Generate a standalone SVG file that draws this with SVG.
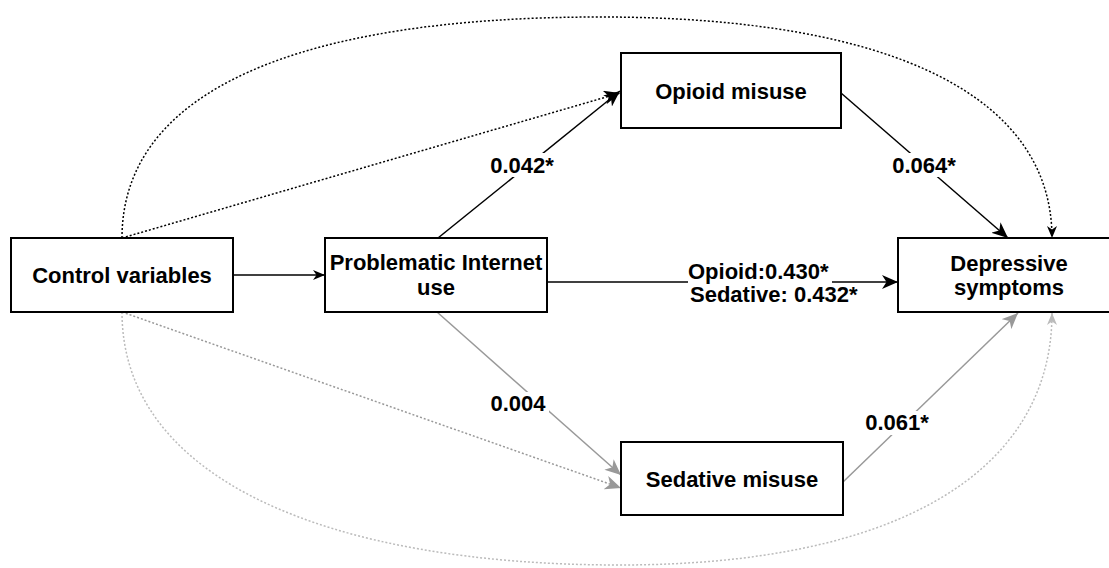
<svg xmlns="http://www.w3.org/2000/svg" width="1109" height="568" viewBox="0 0 1109 568">
<style>
.node rect{fill:#fff;stroke:#000;stroke-width:2}
.t{font-family:"Liberation Sans",Arial,Helvetica,sans-serif;font-weight:bold;font-size:22px;fill:#000}
.c{text-anchor:middle}
.e{fill:none;stroke-width:1.5}
.blk{stroke:#000}
.gry{stroke:#999}
.lgt{stroke:#bbb}
.dot{stroke-dasharray:2 2}
.lbg{fill:#fff;stroke:none}
</style>
<defs>
<marker id="aB" markerUnits="userSpaceOnUse" markerWidth="17" markerHeight="14" refX="16" refY="7" orient="auto"><path d="M0,0 L16,7 L0,14 L4.5,7 Z" fill="#000"/></marker>
<marker id="aBs" markerUnits="userSpaceOnUse" markerWidth="13" markerHeight="10" refX="12" refY="5" orient="auto"><path d="M0,0 L12,5 L0,10 L3.5,5 Z" fill="#000"/></marker>
<marker id="aG" markerUnits="userSpaceOnUse" markerWidth="17" markerHeight="14" refX="16" refY="7" orient="auto"><path d="M0,0 L16,7 L0,14 L4.5,7 Z" fill="#999"/></marker>
<marker id="aGs" markerUnits="userSpaceOnUse" markerWidth="13" markerHeight="10" refX="12" refY="5" orient="auto"><path d="M0,0 L12,5 L0,10 L3.5,5 Z" fill="#bbb"/></marker>
</defs>
<rect width="1109" height="568" fill="#fff"/>
<g id="connectors">
<path class="e blk" d="M233,275 L325,275" marker-end="url(#aBs)"/>
<path class="e blk" d="M438,238 L620,91" marker-end="url(#aB)"/>
<path class="e blk dot" d="M122,238 L620,93" marker-end="url(#aB)"/>
<path class="e blk dot" d="M122,238 C122,90 300,17 600,17 C900,17 1052,100 1052,238" marker-end="url(#aBs)"/>
<path class="e blk" d="M841,93 L1008,238" marker-end="url(#aB)"/>
<path class="e blk" d="M547,282 L688,282"/>
<path class="e blk" d="M832,282 L898,282" marker-end="url(#aB)"/>
<path class="e gry" d="M437,312 L621,475" marker-end="url(#aG)"/>
<path class="e gry dot" d="M122,312 L621,488" marker-end="url(#aG)"/>
<path class="e lgt dot" d="M122,312 C122,480 330,565 620,565 C900,565 1052,470 1052,313" marker-end="url(#aGs)"/>
<path class="e gry" d="M843,482 L1018,313" marker-end="url(#aG)"/>
<g id="labels">
<rect class="lbg" x="489" y="153" width="68" height="24"/>
<text class="t c" x="522" y="173">0.042*</text>
<rect class="lbg" x="892" y="153" width="64" height="24"/>
<text class="t c" x="924" y="173">0.064*</text>
<rect class="lbg" x="487" y="392" width="62" height="24"/>
<text class="t c" x="518" y="411">0.004</text>
<rect class="lbg" x="862" y="411" width="70" height="24"/>
<text class="t c" x="897" y="430">0.061*</text>
<text class="t" x="688" y="279">Opioid:0.430*</text>
<text class="t" x="690" y="302">Sedative: 0.432*</text>
</g>
</g>
<g id="control" class="node"><rect x="11" y="238" width="222" height="74"/><text class="t c" x="122" y="283">Control variables</text></g>
<g id="piu" class="node"><rect x="325" y="238" width="222" height="74"/><text class="t c" x="436" y="270">Problematic Internet</text><text class="t c" x="436" y="295">use</text></g>
<g id="opioid" class="node"><rect x="621" y="53" width="220" height="75"/><text class="t c" x="731" y="99">Opioid misuse</text></g>
<g id="depressive" class="node"><rect x="898" y="238" width="222" height="74"/><text class="t c" x="1009" y="271">Depressive</text><text class="t c" x="1009" y="295">symptoms</text></g>
<g id="sedative" class="node"><rect x="621" y="442" width="222" height="73"/><text class="t c" x="732" y="487">Sedative misuse</text></g>
</svg>
